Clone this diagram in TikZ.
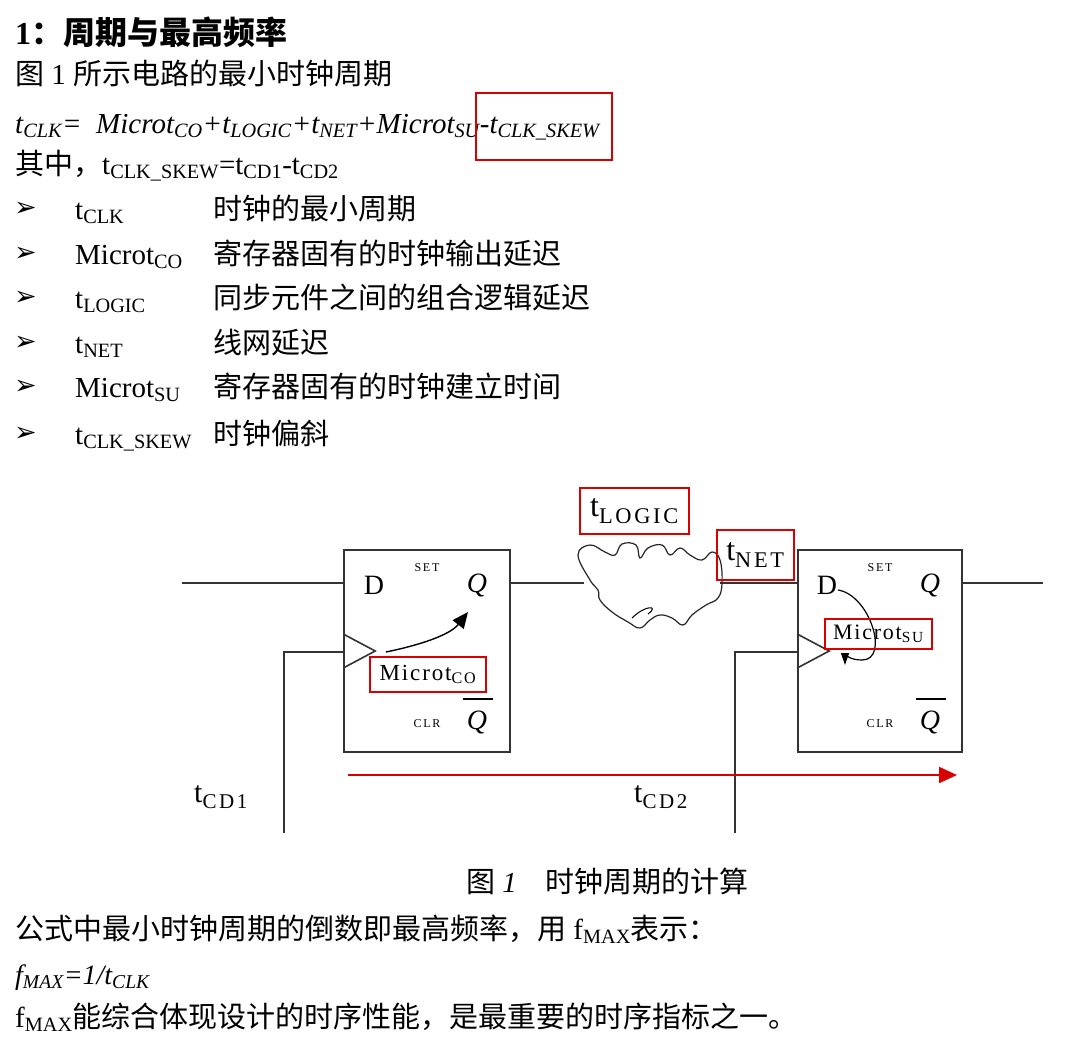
\documentclass[tikz,border=0pt]{standalone}
\usepackage{fontspec}
\setmainfont{Liberation Serif}
\newfontfamily\cjk{Noto Sans CJK SC}
\newfontfamily\djv{DejaVu Sans}
\usetikzlibrary{arrows.meta}
\newcommand{\spsub}[1]{\textsubscript{\addfontfeature{LetterSpace=12}#1}}
\begin{document}
\begin{tikzpicture}[x=1pt,y=-1pt,
  txt/.style={anchor=base west,inner sep=0pt,font=\fontsize{29}{32}\selectfont},
  lbl/.style={inner sep=0pt,font=\fontsize{28}{30}\selectfont},
  small/.style={inner sep=0pt,font=\fontsize{12}{14}\selectfont},
  wire/.style={line width=1.6pt,draw=black!80},
  redbox/.style={draw=red!85!black,line width=2pt}]
\useasboundingbox[fill=white] (0,0) rectangle (1066,1058);
% text block
\node[txt,font=\fontsize{32}{36}\selectfont\bfseries] (title) at (15,44) {1{\cjk ：周期与最高频率}};
\node[txt] (l1) at (15,84) {{\cjk 图} 1 {\cjk 所示电路的最小时钟周期}};
\node[txt,font=\fontsize{29}{32}\selectfont\itshape] (f1) at (15,133) {t\textsubscript{CLK}=\ \ Microt\textsubscript{CO}+t\textsubscript{LOGIC}+t\textsubscript{NET}+Microt\textsubscript{SU}-t\textsubscript{CLK\_SKEW}};
\draw[redbox] (476,93) rectangle (612,160);
\node[txt] (l2) at (15,174) {{\cjk 其中，}t\textsubscript{CLK\_SKEW}=t\textsubscript{CD1}-t\textsubscript{CD2}};
\foreach \y/\a/\b in {219/t\textsubscript{CLK}/时钟的最小周期,
  264/Microt\textsubscript{CO}/寄存器固有的时钟输出延迟,
  308/t\textsubscript{LOGIC}/同步元件之间的组合逻辑延迟,
  353/t\textsubscript{NET}/线网延迟,
  397/Microt\textsubscript{SU}/寄存器固有的时钟建立时间,
  444/t\textsubscript{CLK\_SKEW}/时钟偏斜}{
  \node[txt,font=\fontsize{27}{28}\selectfont] at (14,\y-3) {{\djv ➢}};
  \node[txt] at (75,\y) {\a};
  \node[txt] at (213,\y) {{\cjk \b}};
}
% flip-flops
\node[draw=black!80,line width=1.6pt,minimum width=166pt,minimum height=202pt,inner sep=0pt] (ff1) at (427,651) {};
\node[draw=black!80,line width=1.6pt,minimum width=164pt,minimum height=202pt,inner sep=0pt] (ff2) at (880,651) {};
\draw[wire] (ff1.west) ++(0,-17) -- ++(32,17) -- ++(-32,17);
\draw[wire] (ff2.west) ++(0,-17) -- ++(32,17) -- ++(-32,17);
\foreach \f/\cx in {1/427,2/880}{
  \node[lbl] (d\f) at (\cx-53,585) {D};
  \node[small,font=\fontsize{12}{14}\selectfont\addfontfeature{LetterSpace=15}] (s\f) at (\cx,568) {SET};
  \node[lbl,font=\fontsize{28}{30}\selectfont\itshape] (q\f) at (\cx+50,585) {Q};
  \node[small,font=\fontsize{12}{14}\selectfont\addfontfeature{LetterSpace=15}] (c\f) at (\cx,724) {CLR};
  \node[lbl,font=\fontsize{28}{30}\selectfont\itshape] (qb\f) at (\cx+50,722) {Q};
  \draw[line width=1.4pt] (\cx+36,699) -- (\cx+66,699);
}
% wires
\coordinate (in1) at (182,583);
\coordinate (out2) at (1043,583);
\coordinate (ck1) at (284,833);
\coordinate (ck2) at (735,833);
\coordinate (cl) at (584,583);
\coordinate (cr) at (720,583);
\draw[wire] (in1) -- (ff1.west |- in1);
\draw[wire] (ff1.east |- in1) -- (cl);
\draw[wire] (cr) -- (ff2.west |- cr);
\draw[wire] (ff2.east |- out2) -- (out2);
\draw[wire] (ck1) |- (344,652);
\draw[wire] (ck2) |- (798,652);
% cloud
\draw[line width=1.2pt,black!85] plot[smooth cycle,tension=0.7] coordinates {(590,580)(578,555)(590,545)(605,552)(615,555)(622,544)(636,545)(640,558)(648,548)(662,545)(670,555)(680,548)(690,555)(702,560)(712,552)(720,560)(722,583)(718,598)(706,605)(692,615)(683,625)(672,618)(660,615)(650,620)(640,628)(628,622)(612,612)(600,600)(598,590)};
\draw[line width=1pt] (632,618) .. controls (645,605) and (660,605) .. (648,614);
% internal arrows
\draw[line width=1.4pt,-{Triangle[length=16pt,width=14pt]}] (386,652) .. controls (420,645) and (450,635) .. (468,612);
\draw[line width=1.2pt,-{Triangle[length=12pt,width=8pt]}] (838,590) .. controls (870,595) and (890,660) .. (862,660) .. controls (850,660) and (845,655) .. (845,665);
% red boxes
\node[redbox,inner sep=0pt,minimum width=116pt,minimum height=35pt,fill=white,font=\fontsize{23}{24}\selectfont\addfontfeature{LetterSpace=8}] (mco) at (428,674.5) {Microt\spsub{CO}};
\node[redbox,inner sep=0pt,minimum width=107pt,minimum height=30pt,font=\fontsize{22}{24}\selectfont\addfontfeature{LetterSpace=8}] (msu) at (878.5,634) {Microt\spsub{SU}};
\node[redbox,inner sep=0pt,minimum width=109pt,minimum height=46pt,font=\fontsize{32}{32}\selectfont] (tl) at (634.5,511) {t\spsub{LOGIC}};
\node[redbox,inner sep=0pt,minimum width=77pt,minimum height=50pt,font=\fontsize{32}{32}\selectfont] (tn) at (755.5,555) {t\spsub{NET}};
% skew arrow
\coordinate (ra) at (348,775);
\coordinate (rb) at (957,775);
\draw[draw=red!85!black,line width=2.2pt,-{Triangle[length=18pt,width=16pt]}] (ra) -- (rb);
\node[lbl,font=\fontsize{30}{32}\selectfont] (cd1) at (221,797) {t\spsub{CD1}};
\node[lbl,font=\fontsize{30}{32}\selectfont] (cd2) at (661,797) {t\spsub{CD2}};
% bottom text
\node[txt,font=\fontsize{29}{32}\selectfont\itshape] (cap) at (466,892) {{\cjk 图} 1\quad{\cjk 时钟周期的计算}};
\node[txt] (l3) at (15,939) {{\cjk 公式中最小时钟周期的倒数即最高频率，用} f\textsubscript{MAX}{\cjk 表示：}};
\node[txt,font=\fontsize{28}{30}\selectfont\itshape] (f2) at (15,984) {f\textsubscript{MAX}=1/t\textsubscript{CLK}};
\node[txt] (l4) at (15,1027) {f\textsubscript{MAX}{\cjk 能综合体现设计的时序性能，是最重要的时序指标之一。}};
\end{tikzpicture}
\end{document}
